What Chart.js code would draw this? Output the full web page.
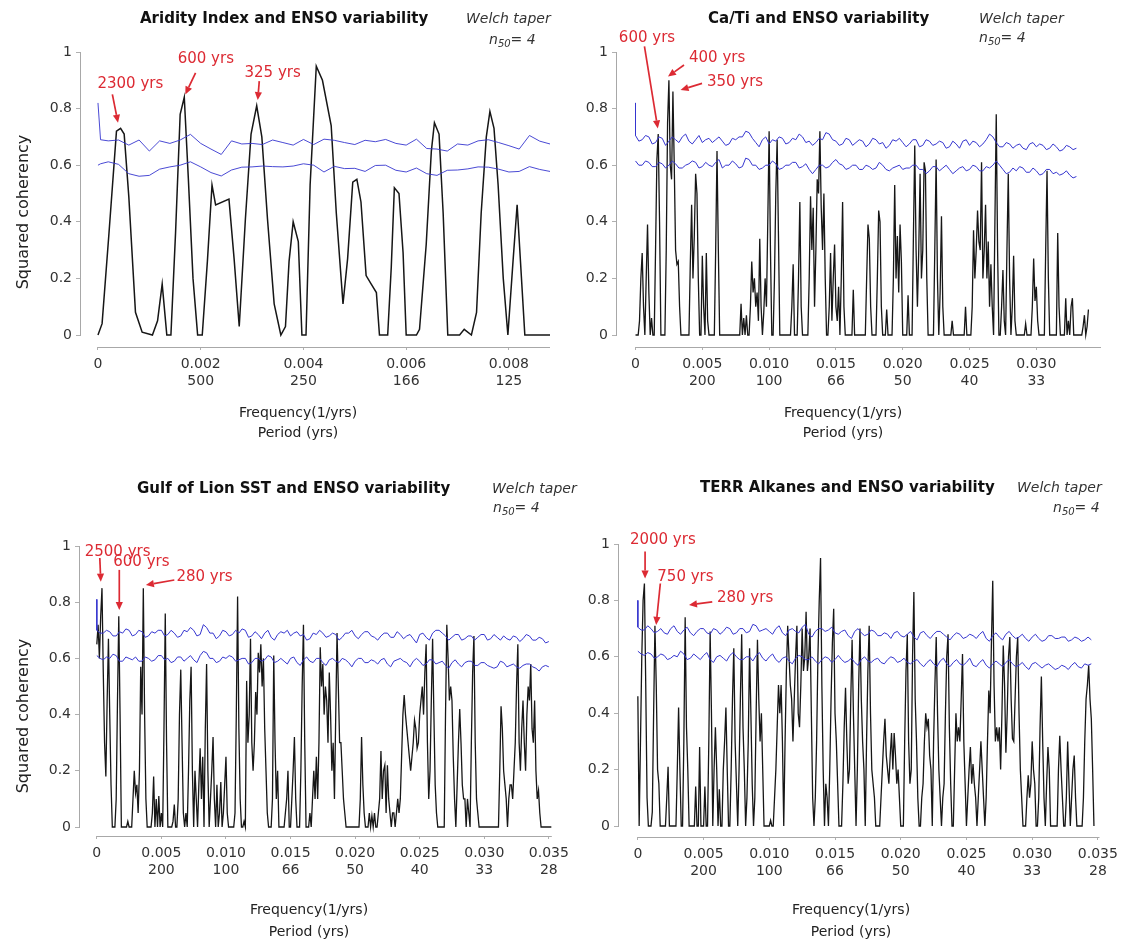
<!DOCTYPE html>
<html><head><meta charset="utf-8">
<script src="https://cdn.jsdelivr.net/npm/chart.js@4.4.1/dist/chart.umd.min.js"></script>
<style>
html,body{margin:0;padding:0;background:#fff;}
#wrap{position:relative;width:1124px;height:939px;overflow:hidden;font-family:'DejaVu Sans',Verdana,sans-serif;background:#fff;}
canvas{position:absolute;}
.t{position:absolute;white-space:nowrap;transform:translateY(-50%);color:#111;}
.title{font-weight:bold;font-size:15px;}
.welch{font-style:italic;font-size:14px;color:#333;}
.ax{position:absolute;white-space:nowrap;transform:translate(-50%,-50%);font-size:14px;color:#222;}
.yl{position:absolute;white-space:nowrap;transform:translate(-50%,-50%) rotate(-90deg);font-size:16px;color:#222;}
sub{font-size:10px;}
</style></head>
<body>
<div id="wrap">
  <canvas id="c1" width="575" height="460" style="left:0;top:0"></canvas>
  <canvas id="c2" width="549" height="460" style="left:575px;top:0"></canvas>
  <canvas id="c3" width="575" height="474" style="left:0;top:465px"></canvas>
  <canvas id="c4" width="549" height="474" style="left:575px;top:465px"></canvas>

  <div class="t title" style="left:140px;top:18px">Aridity Index and ENSO variability</div>
  <div class="t welch" style="left:466px;top:18px">Welch taper</div>
  <div class="t welch" style="left:489px;top:40px"><i>n</i><sub>50</sub>= 4</div>

  <div class="t title" style="left:708px;top:18px">Ca/Ti and ENSO variability</div>
  <div class="t welch" style="left:979px;top:18px">Welch taper</div>
  <div class="t welch" style="left:979px;top:38px"><i>n</i><sub>50</sub>= 4</div>

  <div class="t title" style="left:137px;top:488px">Gulf of Lion SST and ENSO variability</div>
  <div class="t welch" style="left:492px;top:488px">Welch taper</div>
  <div class="t welch" style="left:493px;top:508px"><i>n</i><sub>50</sub>= 4</div>

  <div class="t title" style="left:700px;top:487px">TERR Alkanes and ENSO variability</div>
  <div class="t welch" style="left:1017px;top:487px">Welch taper</div>
  <div class="t welch" style="left:1053px;top:508px"><i>n</i><sub>50</sub>= 4</div>

  <div class="ax" style="left:298px;top:412px">Frequency(1/yrs)</div>
  <div class="ax" style="left:298px;top:432px">Period (yrs)</div>
  <div class="ax" style="left:843px;top:412px">Frequency(1/yrs)</div>
  <div class="ax" style="left:843px;top:432px">Period (yrs)</div>
  <div class="ax" style="left:309px;top:909px">Frequency(1/yrs)</div>
  <div class="ax" style="left:309px;top:931px">Period (yrs)</div>
  <div class="ax" style="left:851px;top:909px">Frequency(1/yrs)</div>
  <div class="ax" style="left:851px;top:931px">Period (yrs)</div>

  <div class="yl" style="left:22px;top:212px">Squared coherency</div>
  <div class="yl" style="left:22px;top:716px">Squared coherency</div>
</div>
<script>
// ---------- shared tick labels ----------
const yTickValues = [0, 0.2, 0.4, 0.6, 0.8, 1];
const yTickLabels = ['0', '0.2', '0.4', '0.6', '0.8', '1'];

// ---------- Panel 1: Aridity Index ----------
const aridFreqTicks = [0, 0.002, 0.004, 0.006, 0.008];
const aridFreqLabels = ['0', '0.002', '0.004', '0.006', '0.008'];
const aridPeriodLabels = ['', '500', '250', '166', '125'];
const aridFreq = [0, .00008, .00021, .00036, .00044, .00051, .0006, .00073, .00086, .00106,
  .00116, .00125, .00134, .00142, .00151, .0016, .00168, .00176, .00185, .00194,
  .00203, .00213, .00222, .00229, .00255, .00265, .00275, .00287, .00298, .00309,
  .00319, .0033, .00343, .00356, .00365, .00372, .0038, .0039, .00397, .00405,
  .00413, .00425, .00437, .00454, .00464, .00477, .00486, .00496, .00504, .00512,
  .00522, .00532, .00542, .00548, .00564, .00571, .00577, .00586, .00594, .006,
  .0062, .00626, .00639, .00649, .00655, .00664, .00672, .00681, .00704, .00713,
  .00727, .00737, .00746, .00756, .00763, .00771, .00779, .00789, .00798, .00808,
  .00816, .00831, .0088];
const aridCoh = [0, .04, .35, .72, .73, .71, .49, .08, .01, 0,
  .05, .18, 0, 0, .36, .78, .84, .55, .2, 0,
  0, .26, .53, .46, .48, .27, .03, .41, .71, .81,
  .70, .41, .11, 0, .03, .26, .4, .33, 0, 0,
  .53, .95, .9, .74, .43, .11, .27, .54, .55, .47,
  .21, .18, .15, 0, 0, .24, .52, .5, .29, 0,
  0, .02, .32, .65, .75, .71, .43, 0, 0, .02,
  0, .08, .43, .7, .79, .73, .53, .2, 0, .26,
  .46, 0, 0];
const aridConfFreq = [0, .00005, .0002, .0004, .0006, .0008, .001, .0012, .0014, .0016, .0018,
  .002, .0022, .0024, .0026, .0028, .003, .0032, .0034, .0036, .0038, .004, .0042, .0044,
  .0046, .0048, .005, .0052, .0054, .0056, .0058, .006, .0062, .0064, .0066, .0068, .007,
  .0072, .0074, .0076, .0078, .008, .0082, .0084, .0086, .0088];
const aridConfUpper = [.82, .69, .686, .689, .671, .689, .650, .686, .677, .689, .709, .677,
  .657, .638, .686, .675, .677, .673, .689, .680, .671, .691, .673, .692, .688, .680, .673,
  .688, .683, .691, .677, .671, .692, .659, .657, .650, .675, .671, .686, .690, .680, .669,
  .657, .705, .685, .675];
const aridConfLower = [.60, .605, .612, .603, .570, .561, .564, .586, .594, .600, .612, .594,
  .574, .562, .583, .593, .594, .597, .595, .594, .597, .605, .600, .576, .596, .588, .589,
  .578, .599, .600, .582, .576, .590, .570, .564, .582, .583, .587, .594, .593, .586, .576,
  .578, .595, .585, .578];

// ---------- dense panels: coherency on a 0.0001 (1/yrs) frequency grid ----------
const BIN = 0.0001;        // spectral resolution of the coherency estimates
const CONF_BIN = 0.00025;  // resolution of the plotted confidence curves
const denseFreqTicks = [0, 0.005, 0.010, 0.015, 0.020, 0.025, 0.030, 0.035];
const denseFreqLabels = ['0', '0.005', '0.010', '0.015', '0.020', '0.025', '0.030', '0.035'];
const densePeriodLabels = ['', '200', '100', '66', '50', '40', '33', '28'];

// Panel 2: Ca/Ti
const caTiCoh = [
  0,0,0,.05,.2,.29,.1,0,.2,.39,
  .15,0,.06,0,0,.3,.62,.71,.4,0,
  0,0,0,.3,.75,.9,.6,.55,.86,.6,
  .3,.25,.26,.1,0,0,0,0,0,0,
  0,.25,.46,.2,.35,.57,.5,.2,0,0,
  .28,.1,0,.29,.05,0,0,0,0,0,
  .3,.65,.3,0,0,0,0,0,0,0,
  0,0,0,0,0,0,0,0,0,.11,
  0,.06,0,.07,0,0,.1,.26,.15,.2,
  .1,.15,.05,.34,.1,0,.08,.2,.1,.4,
  .72,.3,0,0,.2,.5,.69,.35,0,0,
  0,0,0,0,0,0,0,.1,.25,0,
  0,0,.2,.47,.1,0,0,0,0,0,
  .2,.49,.3,.45,.1,.3,.55,.5,.72,.45,
  .3,.5,.2,0,0,.1,.29,.05,.2,.32,
  .1,.05,.17,0,.2,.47,.1,0,0,0,
  0,0,0,.16,0,0,0,0,0,0,
  0,0,0,.2,.39,.34,.1,0,0,0,
  0,.2,.44,.4,.1,0,0,0,.09,0,
  0,0,0,.2,.53,.2,.35,.15,.39,.26,
  0,0,0,0,.14,0,0,0,.35,.67,
  .3,.1,.3,.57,.2,.3,.61,.58,.2,0,
  0,0,0,0,.3,.62,.2,0,.15,.42,
  .1,0,0,0,0,0,0,.05,0,0,
  0,0,0,0,0,0,0,.1,0,0,
  0,0,.1,.37,.2,.3,.44,.33,.3,.61,
  .2,.3,.46,.2,.33,.1,.25,.1,0,.4,
  .78,.3,0,0,.1,.23,.05,0,.3,.57,
  .2,0,.1,.28,.05,0,0,0,0,0,
  0,0,.04,0,0,0,0,.1,.27,.12,
  .17,.05,0,0,0,0,0,.3,.58,.2,
  0,0,0,0,0,0,.36,.1,0,0,
  0,0,.13,0,.05,0,.1,.13,0,0,
  0,0,0,0,0,.03,.07,0,.03,.09];
const caTiConfStart = 0.82;
const caTiConfUpper = [
  .705,.685,.69,.705,.70,.675,.68,.70,.695,.67,.685,.70,.69,.68,.70,.71,.685,.675,.69,.705,
  .68,.69,.695,.68,.69,.70,.685,.67,.675,.695,.69,.70,.70,.72,.715,.695,.68,.665,.69,.70,
  .675,.69,.685,.70,.695,.675,.68,.695,.69,.71,.70,.68,.685,.67,.68,.695,.69,.715,.71,.69,
  .685,.67,.675,.695,.69,.67,.68,.69,.685,.665,.675,.695,.69,.675,.68,.66,.67,.69,.685,.695,
  .68,.665,.675,.69,.69,.665,.67,.69,.685,.67,.675,.685,.68,.66,.665,.685,.675,.66,.685,.69,
  .67,.685,.68,.665,.675,.69,.71,.70,.68,.665,.665,.68,.675,.66,.67,.675,.66,.655,.675,.68,
  .665,.675,.67,.655,.66,.675,.665,.65,.655,.67,.665,.655,.66];
const caTiConfLower = [
  .615,.60,.60,.615,.61,.595,.595,.61,.605,.59,.60,.615,.605,.59,.59,.60,.605,.615,.61,.59,
  .595,.61,.60,.595,.61,.62,.59,.60,.60,.615,.605,.59,.595,.625,.62,.60,.60,.585,.59,.60,
  .60,.615,.605,.585,.59,.60,.60,.61,.61,.59,.595,.605,.585,.57,.585,.60,.60,.59,.595,.61,
  .62,.605,.60,.585,.59,.60,.60,.585,.585,.60,.595,.585,.59,.61,.60,.585,.58,.59,.595,.60,
  .585,.59,.59,.60,.60,.585,.585,.57,.58,.595,.595,.58,.59,.60,.585,.57,.58,.59,.595,.58,
  .585,.60,.595,.58,.58,.595,.59,.60,.615,.60,.585,.57,.575,.59,.58,.595,.59,.575,.575,.59,
  .58,.565,.57,.585,.585,.57,.575,.565,.57,.58,.565,.555,.56];

// Panel 3: Gulf of Lion SST
const sstCoh = [
  .65,.72,.6,.75,.85,.55,.3,.18,.45,.67,
  .4,.15,0,0,0,.1,.45,.75,.4,0,
  0,0,0,0,.02,0,0,0,.1,.2,
  .12,.15,.05,.2,.57,.4,.85,.4,.1,0,
  0,0,0,.05,.18,0,.1,0,.11,0,
  .05,0,.35,.76,.3,0,0,0,0,.02,
  .08,0,0,.1,.4,.56,.3,.05,0,.05,
  0,.2,.45,.57,.2,0,.2,.1,0,.15,
  .28,.1,.25,0,.35,.58,.2,0,.1,.2,
  .32,.1,0,.15,0,.05,.16,0,.05,.15,
  .25,.05,0,0,0,0,0,.05,.4,.82,
  .35,.1,0,0,.02,0,.52,.3,.4,.67,
  .3,.2,.3,.48,.4,.62,.55,.65,.5,.6,
  .35,.2,.05,0,0,0,.1,.61,.3,.1,
  .2,0,0,0,0,0,.05,.1,.2,0,
  0,.1,.2,.32,.1,0,0,0,.2,.5,
  .72,.3,0,0,0,.05,0,.1,.2,.1,
  .25,.1,.3,.64,.5,.58,.4,.5,.45,.3,
  .55,.4,.2,.3,.1,.4,.69,.5,.3,.3,
  .2,.1,.05,0,0,0,0,0,0,0,
  0,0,0,0,.1,.32,.15,.05,0,0,
  0,.05,0,.04,0,.05,0,0,.05,.1,
  .27,.1,.2,.22,.05,.22,.1,.05,0,.05,
  .05,0,.05,.1,.05,.1,.25,.4,.47,.4,
  .35,.3,.25,.2,.25,.3,.38,.35,.28,.3,
  .4,.45,.5,.4,.55,.65,.3,.1,.2,.45,
  .67,.4,.15,.05,0,0,0,0,0,0,
  .4,.72,.6,.45,.5,.45,.25,.1,0,.15,
  .3,.42,.3,.15,.1,.1,0,.1,.05,0,
  .3,.55,.68,.3,.1,.05,0,0,0,0,
  0,0,0,0,0,0,0,0,0,0,
  0,0,.2,.43,.35,.2,.15,.1,0,.1,
  .15,.15,.1,.2,.3,.5,.65,.3,.2,.35,
  .45,.3,.2,.4,.5,.45,.58,.35,.3,.45,
  .2,.1,.13,.05,0,0,0,0,0,0,
  0,0,0];
const sstConfStart = 0.81;
const sstConfUpper = [
  .70,.69,.69,.70,.695,.68,.68,.695,.69,.705,.70,.68,.685,.70,.695,.675,.68,.695,.69,.70,
  .70,.68,.685,.70,.69,.675,.68,.70,.695,.71,.70,.68,.685,.72,.71,.69,.69,.67,.68,.70,
  .695,.68,.685,.70,.69,.705,.70,.675,.68,.695,.685,.67,.69,.70,.675,.665,.685,.695,.69,.70,
  .68,.69,.695,.68,.685,.665,.67,.69,.685,.70,.69,.675,.68,.69,.685,.665,.675,.69,.69,.70,
  .68,.67,.685,.695,.695,.68,.675,.665,.68,.69,.69,.675,.675,.695,.685,.67,.68,.685,.67,.655,
  .685,.69,.675,.665,.69,.70,.70,.69,.68,.665,.675,.685,.685,.665,.67,.68,.68,.665,.675,.685,
  .685,.665,.67,.685,.675,.665,.68,.67,.665,.68,.675,.66,.67,.685,.68,.665,.665,.675,.67,.655,.66];
const sstConfLower = [
  .61,.60,.595,.605,.60,.615,.61,.59,.59,.605,.60,.595,.605,.59,.59,.605,.60,.59,.595,.61,
  .61,.595,.60,.585,.59,.605,.605,.59,.60,.61,.595,.585,.61,.625,.62,.60,.60,.585,.59,.605,
  .60,.61,.605,.59,.595,.60,.60,.58,.585,.60,.60,.59,.595,.61,.605,.585,.59,.60,.59,.58,
  .60,.605,.585,.575,.595,.605,.59,.585,.60,.60,.585,.575,.595,.60,.59,.585,.60,.595,.585,.57,
  .59,.60,.60,.585,.585,.595,.59,.58,.595,.60,.58,.57,.59,.595,.60,.59,.585,.57,.59,.60,
  .59,.575,.58,.595,.595,.58,.585,.59,.575,.565,.585,.595,.58,.57,.585,.59,.59,.575,.575,.585,
  .585,.575,.57,.565,.57,.59,.585,.57,.575,.58,.57,.565,.575,.58,.58,.57,.565,.555,.57,.575,.57];

// Panel 4: TERR alkanes
const terrCoh = [
  .46,0,.3,.6,.8,.86,.5,.1,0,0,
  0,.05,.4,.71,.5,.2,.15,0,0,0,
  0,0,.1,.21,0,0,0,0,0,0,
  .2,.42,.2,0,0,.3,.74,.35,.2,0,
  0,0,0,0,.14,0,0,.28,0,0,
  0,.14,0,0,.3,.69,.4,0,.2,.35,
  .2,0,.13,0,0,.2,.3,.42,.2,0,
  0,.2,.45,.63,.3,.15,0,.2,.45,.68,
  .35,.2,0,.1,.3,.63,.4,.15,0,.1,
  .4,.66,.45,.3,.4,.2,0,0,0,0,
  0,.02,0,0,.1,.2,.35,.5,.4,.5,
  .3,0,.3,.55,.71,.6,.5,.45,.3,.45,
  .6,.71,.4,.35,.5,.7,.55,.6,.76,.55,
  .6,.7,.4,.1,0,.1,.3,.6,.8,.95,
  .5,.2,0,.15,.1,0,.2,.45,.65,.77,
  .4,.3,.15,0,0,0,.15,.35,.49,.3,
  .15,.2,.45,.66,.4,.2,0,.2,.5,.7,
  .45,.3,.2,0,.3,.55,.71,.4,.2,.15,
  .1,0,0,0,0,.1,.2,.3,.38,.25,
  .2,.15,.25,.33,.2,.33,.25,.15,.2,.1,
  0,0,0,.3,.55,.68,.3,.15,.2,.6,
  .83,.45,.3,.1,0,0,.1,.15,.3,.4,
  .35,.38,.25,.2,0,.3,.5,.67,.4,.2,
  .1,0,.1,.15,.4,.6,.68,.35,.15,0,
  0,.2,.4,.3,.35,.3,.45,.61,.3,.15,
  0,.1,.2,.28,.15,.22,.15,.1,0,.1,
  .2,.3,.2,.1,0,.1,.3,.48,.4,.65,
  .87,.5,.3,.35,.3,.35,.2,.4,.64,.5,
  .26,.4,.6,.67,.45,.31,.3,.45,.6,.67,
  .4,.2,.1,0,0,0,.1,.18,.1,.15,
  .3,.2,.15,0,0,.1,.35,.53,.3,.1,
  0,.15,.28,.2,0,0,0,0,0,0,
  .2,.32,.2,.1,0,0,.1,.3,.15,0,
  .1,.2,.25,.1,0,0,0,0,0,.1,
  .3,.45,.5,.57,.45,.38,.2,0];
const terrConfStart = 0.80;
const terrConfUpper = [
  .705,.695,.695,.71,.70,.685,.69,.70,.685,.68,.70,.71,.69,.68,.695,.705,.685,.675,.69,.70,
  .70,.685,.68,.70,.695,.68,.69,.705,.70,.68,.685,.70,.70,.685,.69,.715,.71,.69,.695,.70,
  .69,.68,.70,.71,.685,.675,.695,.70,.69,.685,.705,.715,.68,.67,.69,.70,.70,.69,.695,.705,
  .685,.68,.69,.695,.675,.665,.69,.70,.685,.675,.68,.695,.69,.675,.675,.685,.68,.665,.685,.69,
  .675,.67,.68,.69,.67,.66,.685,.69,.675,.665,.68,.69,.69,.68,.67,.66,.675,.685,.68,.665,
  .67,.68,.675,.665,.68,.69,.665,.655,.675,.685,.67,.66,.68,.69,.675,.665,.67,.68,.665,.655,
  .67,.68,.665,.655,.66,.675,.675,.665,.665,.67,.67,.655,.66,.67,.665,.655,.66,.67,.66];
const terrConfLower = [
  .62,.61,.605,.615,.61,.595,.60,.61,.605,.59,.595,.605,.60,.62,.61,.59,.595,.61,.60,.59,
  .605,.615,.59,.58,.60,.605,.595,.585,.605,.615,.60,.59,.59,.60,.60,.585,.605,.615,.595,.585,
  .60,.61,.59,.58,.595,.60,.585,.575,.595,.605,.60,.59,.59,.60,.585,.575,.59,.60,.595,.58,
  .59,.605,.59,.58,.585,.595,.58,.57,.59,.60,.585,.58,.59,.595,.58,.575,.59,.60,.595,.58,
  .585,.595,.58,.575,.585,.59,.575,.565,.58,.59,.575,.565,.585,.595,.575,.565,.58,.59,.575,.57,
  .58,.595,.57,.565,.58,.59,.57,.56,.575,.585,.575,.565,.58,.59,.575,.565,.57,.58,.565,.555,
  .575,.58,.57,.56,.57,.575,.565,.555,.56,.57,.565,.555,.57,.58,.565,.56,.575,.57,.575];

// ---------- period annotations (text centre, arrow tail, arrow head) in data units ----------
const aridNotes = [
  {label:'2300 yrs', text:[.00063,.885], from:[.00028,.85], to:[.00039,.75]},
  {label:'600 yrs',  text:[.0021,.974],  from:[.0019,.926], to:[.0017,.85]},
  {label:'325 yrs',  text:[.0034,.926],  from:[.00314,.897], to:[.00311,.83]}
];
const caTiNotes = [
  {label:'600 yrs', text:[.00086,1.05], from:[.00067,1.02], to:[.00167,.73]},
  {label:'400 yrs', text:[.00611,.977], from:[.00363,.954], to:[.00243,.913]},
  {label:'350 yrs', text:[.00745,.895], from:[.00498,.889], to:[.00337,.866]}
];
const sstNotes = [
  {label:'2500 yrs', text:[.00161,.98], from:[.00023,.957], to:[.00031,.873]},
  {label:'600 yrs',  text:[.00345,.944], from:[.00174,.915], to:[.00174,.772]},
  {label:'280 yrs',  text:[.00834,.891], from:[.006,.879], to:[.0038,.861]}
];
const terrNotes = [
  {label:'2000 yrs', text:[.0019,1.014], from:[.00055,.973], to:[.00055,.878]},
  {label:'750 yrs',  text:[.00362,.884], from:[.00171,.86], to:[.00139,.713]},
  {label:'280 yrs',  text:[.00816,.807], from:[.00566,.795], to:[.00389,.784]}
];

// ---------- helpers ----------
const RED = '#dc2a33';
const BLUE = '#3535cf';
Chart.defaults.font.family = "'DejaVu Sans', Verdana, sans-serif";

const pairPts = (fs, vs) => vs.map((v, i) => ({x: fs[i], y: v}));
const gridPts = (step, vs) => vs.map((v, i) => ({x: i * step, y: v}));
const confPts = (start, vs) => [{x: 0, y: start}].concat(gridPts(CONF_BIN, vs));

function axisLinesPlugin() {
  return {
    id: 'axisLines',
    afterDraw(chart) {
      const {ctx, chartArea, scales: {x, y}} = chart;
      ctx.save();
      ctx.strokeStyle = '#a8a8a8';
      ctx.lineWidth = 1;
      const yx = Math.round(chartArea.left) + 0.5;
      ctx.beginPath();
      ctx.moveTo(yx, y.getPixelForValue(1));
      ctx.lineTo(yx, y.getPixelForValue(0) + 1);
      ctx.stroke();
      const xy = Math.round(chartArea.bottom) + 0.5;
      ctx.beginPath();
      ctx.moveTo(x.getPixelForValue(0), xy);
      ctx.lineTo(chartArea.right, xy);
      ctx.stroke();
      ctx.restore();
    }
  };
}

function notesPlugin(notes) {
  return {
    id: 'peakNotes',
    afterDatasetsDraw(chart) {
      const {ctx, scales: {x, y}} = chart;
      notes.forEach(n => {
        const x0 = x.getPixelForValue(n.from[0]), y0 = y.getPixelForValue(n.from[1]);
        const x1 = x.getPixelForValue(n.to[0]), y1 = y.getPixelForValue(n.to[1]);
        const ang = Math.atan2(y1 - y0, x1 - x0);
        const hl = 8, hw = 3.6;
        const bx = x1 - hl * Math.cos(ang), by = y1 - hl * Math.sin(ang);
        ctx.save();
        ctx.strokeStyle = RED; ctx.fillStyle = RED; ctx.lineWidth = 1.7;
        ctx.beginPath(); ctx.moveTo(x0, y0); ctx.lineTo(bx, by); ctx.stroke();
        ctx.beginPath();
        ctx.moveTo(x1, y1);
        ctx.lineTo(bx + hw * Math.sin(ang), by - hw * Math.cos(ang));
        ctx.lineTo(bx - hw * Math.sin(ang), by + hw * Math.cos(ang));
        ctx.closePath(); ctx.fill();
        ctx.font = "15px 'DejaVu Sans'";
        ctx.textAlign = 'center'; ctx.textBaseline = 'middle';
        ctx.fillText(n.label, x.getPixelForValue(n.text[0]), y.getPixelForValue(n.text[1]));
        ctx.restore();
      });
    }
  };
}

function makePanel(p) {
  return new Chart(document.getElementById(p.id), {
    type: 'line',
    data: {
      datasets: [
        {data: p.upper, borderColor: BLUE, borderWidth: p.confW, pointRadius: 0, tension: 0, order: 0},
        {data: p.lower, borderColor: BLUE, borderWidth: p.confW, pointRadius: 0, tension: 0, order: 1},
        {data: p.coh, borderColor: '#161616', borderWidth: p.cohW, pointRadius: 0, tension: 0, order: 2}
      ]
    },
    options: {
      responsive: false, animation: false, devicePixelRatio: 1, events: [],
      layout: {padding: {left: 0, top: p.padTop, right: p.padRight, bottom: 0}},
      plugins: {legend: {display: false}, tooltip: {enabled: false}},
      scales: {
        x: {
          type: 'linear', min: p.xMin, max: p.xMax,
          border: {display: false},
          grid: {display: true, drawOnChartArea: false, drawTicks: true, tickLength: 3, color: '#b0b0b0'},
          afterBuildTicks: s => { s.ticks = p.xTicks.map(v => ({value: v})); },
          afterFit: s => { s.height = p.xAxisH; },
          ticks: {
            autoSkip: false, maxRotation: 0, minRotation: 0, padding: 6,
            color: '#333', font: {size: 14},
            callback: (v, i) => p.periodLabels[i] ? [p.freqLabels[i], p.periodLabels[i]] : p.freqLabels[i]
          }
        },
        y: {
          type: 'linear', min: p.yMin, max: 1,
          border: {display: false},
          grid: {display: true, drawOnChartArea: false, drawTicks: true, tickLength: 4, color: '#b0b0b0'},
          afterBuildTicks: s => { s.ticks = yTickValues.map(v => ({value: v})); },
          afterFit: s => { s.width = p.yAxisW; },
          ticks: {
            autoSkip: false, padding: 4, color: '#333', font: {size: 14},
            callback: (v, i) => yTickLabels[i]
          }
        }
      }
    },
    plugins: [axisLinesPlugin(), notesPlugin(p.notes)]
  });
}

makePanel({
  id: 'c1', padTop: 52, padRight: 25, xAxisH: 113, yAxisW: 80,
  xMin: -0.00035, xMax: 0.0088, yMin: -0.0424,
  xTicks: aridFreqTicks, freqLabels: aridFreqLabels, periodLabels: aridPeriodLabels,
  coh: pairPts(aridFreq, aridCoh),
  upper: pairPts(aridConfFreq, aridConfUpper),
  lower: pairPts(aridConfFreq, aridConfLower),
  cohW: 1.5, confW: 0.9, notes: aridNotes
});
makePanel({
  id: 'c2', padTop: 52, padRight: 23, xAxisH: 113, yAxisW: 41,
  xMin: -0.00146, xMax: 0.03484, yMin: -0.0424,
  xTicks: denseFreqTicks.slice(0, 7), freqLabels: denseFreqLabels, periodLabels: densePeriodLabels,
  coh: gridPts(BIN, caTiCoh),
  upper: confPts(caTiConfStart, caTiConfUpper),
  lower: gridPts(CONF_BIN, caTiConfLower),
  cohW: 1.3, confW: 1, notes: caTiNotes
});
makePanel({
  id: 'c3', padTop: 81, padRight: 20, xAxisH: 103, yAxisW: 79,
  xMin: -0.00138, xMax: 0.03523, yMin: -0.032,
  xTicks: denseFreqTicks, freqLabels: denseFreqLabels, periodLabels: densePeriodLabels,
  coh: gridPts(BIN, sstCoh),
  upper: confPts(sstConfStart, sstConfUpper),
  lower: gridPts(CONF_BIN, sstConfLower),
  cohW: 1.3, confW: 1, notes: sstNotes
});
makePanel({
  id: 'c4', padTop: 79, padRight: 21, xAxisH: 102, yAxisW: 43,
  xMin: -0.00151, xMax: 0.03512, yMin: -0.039,
  xTicks: denseFreqTicks, freqLabels: denseFreqLabels, periodLabels: densePeriodLabels,
  coh: gridPts(BIN, terrCoh),
  upper: confPts(terrConfStart, terrConfUpper),
  lower: gridPts(CONF_BIN, terrConfLower),
  cohW: 1.3, confW: 1, notes: terrNotes
});
</script>
</body></html>
